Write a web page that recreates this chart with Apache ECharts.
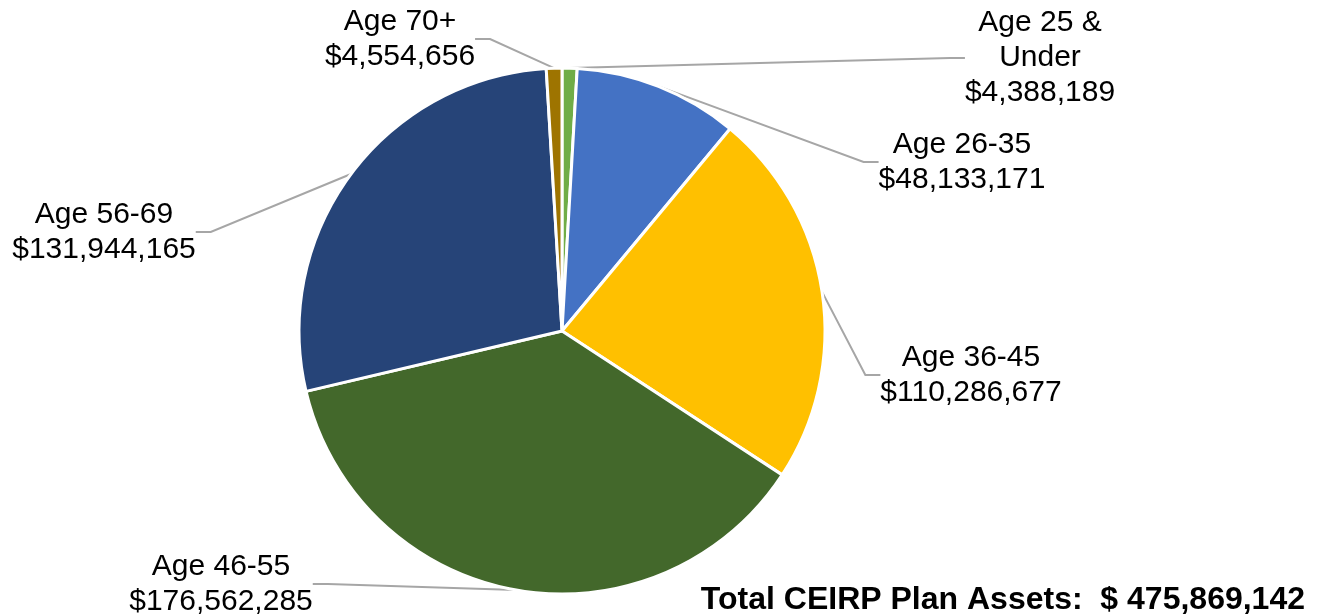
<!DOCTYPE html>
<html>
<head>
<meta charset="utf-8">
<script src="https://cdn.jsdelivr.net/npm/echarts@6/dist/echarts.min.js"></script>
<style>
  html, body { margin: 0; padding: 0; background: #fff; }
  #chart { width: 1318px; height: 615px; }
</style>
</head>
<body>
<div id="chart"></div>
<script>
const categories = ['Age 25 & Under', 'Age 26-35', 'Age 36-45', 'Age 46-55', 'Age 56-69', 'Age 70+'];
const assets = [4388189, 48133171, 110286677, 176562285, 131944165, 4554656];
const totalLabel = 'Total CEIRP Plan Assets:  $ 475,869,142';

const colors = ['#70ad47', '#4472c4', '#ffc000', '#43682b', '#264478', '#9e7400'];
// label anchor points (centre of each text block)
const labelSpots = [
  [1040, 58], [962, 162], [971, 375], [221, 584], [104, 232], [400, 39]
];

const chart = echarts.init(document.getElementById('chart'));

const fmt = v => '$' + v.toLocaleString('en-US');

chart.setOption({
  animation: false,
  color: colors,
  title: {
    text: totalLabel,
    right: 8,
    top: 579,
    textStyle: {
      fontFamily: 'Liberation Sans, Arial, sans-serif',
      fontSize: 32,
      fontWeight: 'bold',
      color: '#000'
    }
  },
  series: [
    {
      name: 'Assets',
      type: 'pie',
      center: [562, 331],
      radius: 263,
      startAngle: 90,
      clockwise: true,
      itemStyle: {
        borderColor: '#fff',
        borderWidth: 3
      },
      label: {
        show: true,
        position: 'outside',
        formatter: p => p.name.replace(' Under', '\nUnder') + '\n' + fmt(p.value),
        fontFamily: 'Liberation Sans, Arial, sans-serif',
        fontSize: 30,
        lineHeight: 35,
        color: '#000',
        align: 'center'
      },
      labelLine: {
        show: true,
        length: 20,
        length2: 15,
        lineStyle: { color: '#a6a6a6', width: 2 }
      },
      labelLayout: p => ({
        x: labelSpots[p.dataIndex][0],
        y: labelSpots[p.dataIndex][1],
        align: 'center',
        verticalAlign: 'middle'
      }),
      data: categories.map((name, i) => ({ name, value: assets[i] }))
    }
  ]
});
</script>
</body>
</html>
